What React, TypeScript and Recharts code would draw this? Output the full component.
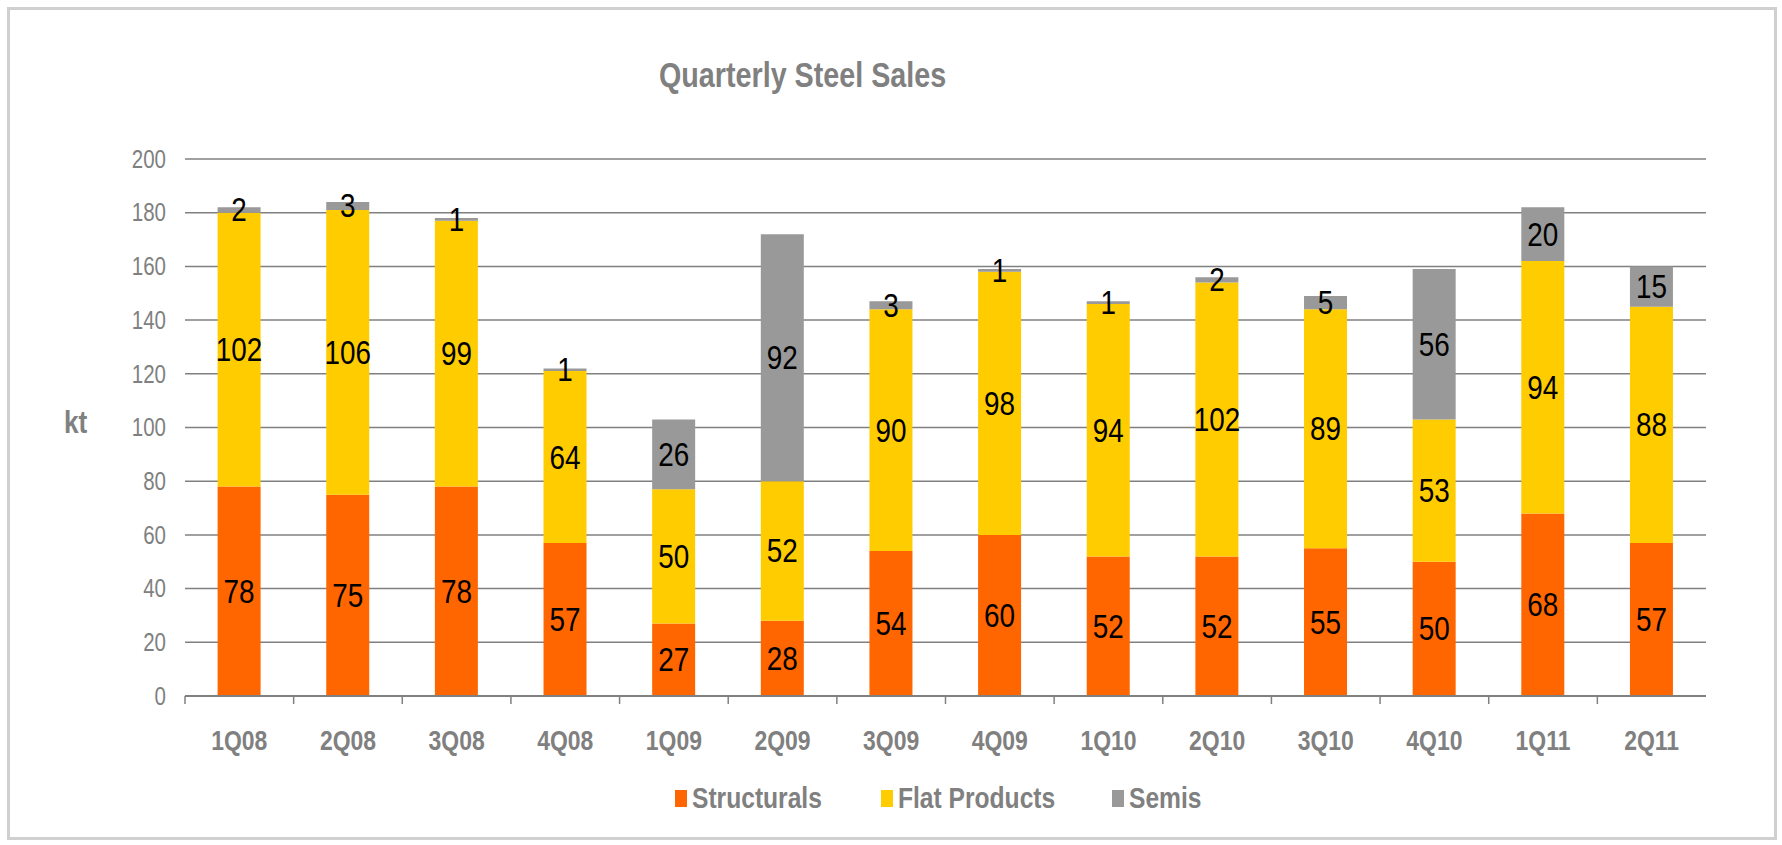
import React from 'react'
import { BarChart, Bar, XAxis, YAxis, CartesianGrid, LabelList } from 'recharts'

const quarters = ['1Q08', '2Q08', '3Q08', '4Q08', '1Q09', '2Q09', '3Q09', '4Q09', '1Q10', '2Q10', '3Q10', '4Q10', '1Q11', '2Q11']
const structurals = [78, 75, 78, 57, 27, 28, 54, 60, 52, 52, 55, 50, 68, 57]
const flatProducts = [102, 106, 99, 64, 50, 52, 90, 98, 94, 102, 89, 53, 94, 88]
const semis = [2, 3, 1, 1, 26, 92, 3, 1, 1, 2, 5, 56, 20, 15]
const yTicks = [0, 20, 40, 60, 80, 100, 120, 140, 160, 180, 200]

const data = quarters.map((q, i) => ({
  q,
  structurals: structurals[i],
  flat: flatProducts[i],
  semis: semis[i],
}))

const W = 1782
const H = 845
const X_AXIS_H = 30
const M = { top: 159, right: 76, bottom: 149 - X_AXIS_H, left: 105 }
const Y_AXIS_W = 80
const PLOT_LEFT = M.left + Y_AXIS_W
const BAND = (W - PLOT_LEFT - M.right) / quarters.length

// no Arial Narrow here, so squeeze Liberation Sans horizontally
const FONT = '"Liberation Sans", Arial, sans-serif'
const SQ = 0.82
const GREY = '#808080'

const series = [
  { key: 'structurals', name: 'Structurals', color: '#FF6600' },
  { key: 'flat', name: 'Flat Products', color: '#FFCC00' },
  { key: 'semis', name: 'Semis', color: '#999999' },
]

function XTick(props: any) {
  const { x, y, payload } = props
  const bx = x - BAND / 2
  return (
    <g>
      <line x1={bx} y1={y} x2={bx} y2={y + 8} stroke={GREY} strokeWidth={1.5} />
      <text transform={`translate(${x} ${y + 44}) scale(${SQ} 1)`} textAnchor="middle" dominantBaseline="central"
        fill={GREY} fontFamily={FONT} fontWeight="bold" fontSize={28}>
        {payload.value}
      </text>
    </g>
  )
}

function YTick(props: any) {
  const { x, y, payload } = props
  return (
    <text transform={`translate(${x} ${y}) scale(${SQ} 1)`} textAnchor="end" dominantBaseline="central"
      fill={GREY} fontFamily={FONT} fontSize={25}>
      {payload.value}
    </text>
  )
}

function SegLabel(props: any) {
  const { x, y, width, height, value } = props
  const cx = x + width / 2
  const cy = y + height / 2
  return (
    <text transform={`translate(${cx} ${cy}) scale(${SQ} 1)`} textAnchor="middle" dominantBaseline="central"
      fill="#000" fontFamily={FONT} fontSize={34}>
      {value}
    </text>
  )
}

const squeeze: React.CSSProperties = { transform: `scaleX(${SQ})`, transformOrigin: 'left center', whiteSpace: 'nowrap' }

export default function App() {
  return (
    <div style={{ position: 'absolute', left: 0, top: 0, width: W, height: H, background: '#fff' }}>
      <div style={{ position: 'absolute', left: 7, top: 7, width: W - 18, height: H - 18, border: '3px solid #d0d0d0' }} />
      <div style={{ position: 'absolute', left: 659, top: 54, fontFamily: FONT, fontWeight: 'bold', fontSize: 35, color: GREY, lineHeight: '42px', ...squeeze }}>
        Quarterly Steel Sales
      </div>
      <div style={{ position: 'absolute', left: 64, top: 402, fontFamily: FONT, fontWeight: 'bold', fontSize: 32, color: GREY, lineHeight: '40px', ...squeeze }}>
        kt
      </div>
      <BarChart width={W} height={H} data={data} margin={M} barCategoryGap="30%">
        <CartesianGrid vertical={false} stroke={GREY} strokeWidth={1.5} />
        <XAxis dataKey="q" height={X_AXIS_H} axisLine={{ stroke: GREY, strokeWidth: 2 }} tickLine={false} tickSize={0} tickMargin={0}
          tick={<XTick />} interval={0} />
        <YAxis width={Y_AXIS_W} domain={[0, 200]} ticks={yTicks} axisLine={false} tickLine={false} tickSize={8} tickMargin={11}
          tick={<YTick />} />
        {series.map((s) => (
          <Bar key={s.key} dataKey={s.key} name={s.name} stackId="a" fill={s.color} isAnimationActive={false}>
            <LabelList dataKey={s.key} content={<SegLabel />} />
          </Bar>
        ))}
      </BarChart>
      <div style={{ position: 'absolute', left: 675, top: 778, height: 40, display: 'flex', alignItems: 'center', fontFamily: FONT, fontWeight: 'bold', fontSize: 30, color: GREY }}>
        {series.map((s, i) => (
          <div key={s.key} style={{ display: 'flex', alignItems: 'center', width: [206, 231, 100][i] }}>
            <span style={{ width: 12, height: 17, background: s.color, display: 'inline-block', marginRight: 5, flex: 'none' }} />
            <span style={{ display: 'inline-block', ...squeeze }}>{s.name}</span>
          </div>
        ))}
      </div>
    </div>
  )
}
